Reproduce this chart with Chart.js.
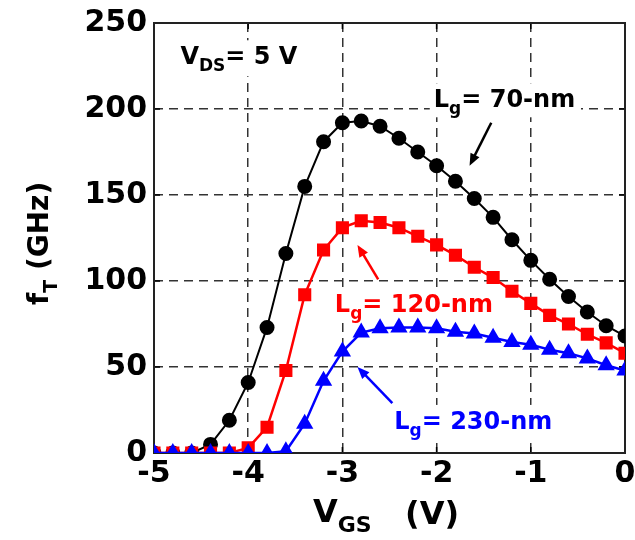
<!DOCTYPE html>
<html>
<head>
<meta charset="utf-8">
<script src="https://cdn.jsdelivr.net/npm/chart.js@4.4.1/dist/chart.umd.min.js"></script>
<style>
  html, body { margin: 0; padding: 0; background: #fff; }
  #wrap { width: 635px; height: 540px; }
</style>
</head>
<body>
<div id="wrap"><canvas id="ftChart" width="635" height="540"></canvas></div>
<script>
// V_GS sweep (V)
const vgs = [-5, -4.8, -4.6, -4.4, -4.2, -4, -3.8, -3.6, -3.4, -3.2, -3, -2.8, -2.6,
  -2.4, -2.2, -2, -1.8, -1.6, -1.4, -1.2, -1, -0.8, -0.6, -0.4, -0.2, 0];

// fT (GHz) for each gate length
const ft70 = [0, 0, 0, 5, 19, 41, 73, 116, 155, 181, 192, 193, 190,
  183, 175, 167, 158, 148, 137, 124, 112, 101, 91, 82, 74, 68];
const ft120 = [0, 0, 0, 0, 0, 3, 15, 48, 92, 118, 131, 135, 134,
  131, 126, 121, 115, 108, 102, 94, 87, 80, 75, 69, 64, 58];
const ft230 = [0, 0, 0, 0, 0, 0, 0, 1, 17, 42, 59, 70, 72.5,
  73, 73, 72.5, 70.5, 69.5, 67, 64.5, 63, 60, 58, 55, 51, 48];

const xTicks = [-5, -4, -3, -2, -1, 0];
const yTicks = [0, 50, 100, 150, 200, 250];

const FONT = '"DejaVu Sans", "Liberation Sans", Arial, sans-serif';

const toPoints = arr => arr.map((y, i) => ({ x: vgs[i], y: y }));

// text with a subscript, returns end x
function subText(ctx, x, y, main, sub, rest, size, color) {
  ctx.fillStyle = color;
  ctx.textBaseline = 'alphabetic';
  ctx.textAlign = 'left';
  ctx.font = 'bold ' + size + 'px ' + FONT;
  ctx.fillText(main, x, y);
  x += ctx.measureText(main).width;
  const ss = Math.round(size * 0.7);
  ctx.font = 'bold ' + ss + 'px ' + FONT;
  ctx.fillText(sub, x, y + size * 0.3);
  x += ctx.measureText(sub).width;
  ctx.font = 'bold ' + size + 'px ' + FONT;
  ctx.fillText(rest, x, y);
  return x + ctx.measureText(rest).width;
}

function arrow(ctx, x1, y1, x2, y2, color) {
  const ang = Math.atan2(y2 - y1, x2 - x1);
  const hl = 12, hw = 5;
  ctx.strokeStyle = color;
  ctx.fillStyle = color;
  ctx.lineWidth = 2.5;
  ctx.beginPath();
  ctx.moveTo(x1, y1);
  ctx.lineTo(x2 - Math.cos(ang) * hl * 0.8, y2 - Math.sin(ang) * hl * 0.8);
  ctx.stroke();
  ctx.beginPath();
  ctx.moveTo(x2, y2);
  ctx.lineTo(x2 - Math.cos(ang) * hl - Math.sin(ang) * hw, y2 - Math.sin(ang) * hl + Math.cos(ang) * hw);
  ctx.lineTo(x2 - Math.cos(ang) * hl + Math.sin(ang) * hw, y2 - Math.sin(ang) * hl - Math.cos(ang) * hw);
  ctx.closePath();
  ctx.fill();
}

const labels = [
  { x: -2.03, y: 201, sub: 'g', rest: '= 70-nm', color: '#000', ax: [-1.42, 192, -1.65, 167] },
  { x: -3.08, y: 82, sub: 'g', rest: '= 120-nm', color: '#ff0000', ax: [-2.62, 101, -2.84, 121] },
  { x: -2.45, y: 14, sub: 'g', rest: '= 230-nm', color: '#0000ff', ax: [-2.47, 29, -2.84, 50] }
];

const framePlugin = {
  id: 'frame',
  beforeDatasetsDraw(chart) {
    const { ctx, chartArea: a, scales } = chart;
    ctx.save();
    // white boxes behind the annotations break the grid like the original
    ctx.fillStyle = '#fff';
    ctx.font = 'bold 24px ' + FONT;
    labels.forEach(l => {
      const px = scales.x.getPixelForValue(l.x);
      const py = scales.y.getPixelForValue(l.y);
      const w = ctx.measureText('L' + l.rest).width + 14;
      ctx.fillRect(px - 4, py - 24, w + 8, 34);
    });
    const vx = scales.x.getPixelForValue(-4.72), vy = scales.y.getPixelForValue(226);
    ctx.fillRect(vx - 4, vy - 24, 132, 36);
    // inner tick marks
    ctx.strokeStyle = '#000';
    ctx.lineWidth = 1.5;
    xTicks.forEach(t => {
      const px = scales.x.getPixelForValue(t);
      ctx.beginPath(); ctx.moveTo(px, a.bottom); ctx.lineTo(px, a.bottom - 6); ctx.stroke();
      ctx.beginPath(); ctx.moveTo(px, a.top); ctx.lineTo(px, a.top + 6); ctx.stroke();
    });
    yTicks.forEach(t => {
      const py = scales.y.getPixelForValue(t);
      ctx.beginPath(); ctx.moveTo(a.left, py); ctx.lineTo(a.left + 6, py); ctx.stroke();
      ctx.beginPath(); ctx.moveTo(a.right, py); ctx.lineTo(a.right - 6, py); ctx.stroke();
    });
    // box
    ctx.strokeStyle = '#222';
    ctx.lineWidth = 2;
    ctx.strokeRect(a.left, a.top, a.right - a.left, a.bottom - a.top);
    ctx.restore();
  },
  afterDraw(chart) {
    const { ctx, scales } = chart;
    ctx.save();
    // annotations
    labels.forEach(l => {
      const px = scales.x.getPixelForValue(l.x);
      const py = scales.y.getPixelForValue(l.y);
      subText(ctx, px, py, 'L', l.sub, l.rest, 24, l.color);
      arrow(ctx,
        scales.x.getPixelForValue(l.ax[0]), scales.y.getPixelForValue(l.ax[1]),
        scales.x.getPixelForValue(l.ax[2]), scales.y.getPixelForValue(l.ax[3]), l.color);
    });
    subText(ctx, scales.x.getPixelForValue(-4.72), scales.y.getPixelForValue(226),
      'V', 'DS', '= 5 V', 24, '#000');

    // x axis title
    subText(ctx, 313, 522, 'V', 'GS', '', 32, '#000');
    ctx.font = 'bold 32px ' + FONT;
    ctx.fillText('(V)', 405, 524);

    // y axis title (rotated)
    ctx.translate(48, 305);
    ctx.rotate(-Math.PI / 2);
    ctx.font = 'bold 28px ' + FONT;
    ctx.fillStyle = '#000';
    ctx.textBaseline = 'alphabetic';
    ctx.fillText('f', 0, 0);
    let w = ctx.measureText('f').width;
    ctx.font = 'bold 19px ' + FONT;
    ctx.fillText('T', w, 9);
    w += ctx.measureText('T').width;
    ctx.font = 'bold 28px ' + FONT;
    ctx.fillText(' (GHz)', w, 0);
    ctx.restore();
  }
};

const ctx = document.getElementById('ftChart').getContext('2d');
new Chart(ctx, {
  type: 'line',
  data: {
    datasets: [
      {
        label: 'Lg = 70-nm',
        data: toPoints(ft70),
        borderColor: '#000',
        backgroundColor: '#000',
        borderWidth: 2,
        pointStyle: 'circle',
        pointRadius: 6.5,
        order: 3
      },
      {
        label: 'Lg = 120-nm',
        data: toPoints(ft120),
        borderColor: '#ff0000',
        backgroundColor: '#ff0000',
        borderWidth: 2.5,
        pointStyle: 'rect',
        pointRadius: 7.5,
        order: 2
      },
      {
        label: 'Lg = 230-nm',
        data: toPoints(ft230),
        borderColor: '#0000ff',
        backgroundColor: '#0000ff',
        borderWidth: 2.5,
        pointStyle: 'triangle',
        pointRadius: 7.5,
        order: 1
      }
    ]
  },
  options: {
    responsive: false,
    animation: false,
    events: [],
    layout: { padding: { top: 23, right: 7, left: 0, bottom: 0 } },
    plugins: {
      legend: { display: false },
      tooltip: { enabled: false },
      title: { display: false }
    },
    elements: {
      line: { tension: 0 },
      point: { borderWidth: 0 }
    },
    scales: {
      x: {
        type: 'linear',
        min: -5,
        max: 0,
        afterFit: s => { s.height = 87; s.paddingLeft = 0; s.paddingRight = 0; },
        afterBuildTicks: s => { s.ticks = xTicks.map(v => ({ value: v })); },
        ticks: {
          color: '#000',
          padding: 3,
          maxRotation: 0,
          font: { family: FONT, size: 30, weight: 'bold' }
        },
        grid: { color: '#333', lineWidth: 1.5, drawTicks: false },
        border: { display: false, dash: [9, 6] }
      },
      y: {
        type: 'linear',
        min: 0,
        max: 250,
        afterFit: s => { s.width = 154; s.paddingTop = 0; s.paddingBottom = 0; },
        afterBuildTicks: s => { s.ticks = yTicks.map(v => ({ value: v })); },
        ticks: {
          color: '#000',
          padding: 7,
          font: { family: FONT, size: 30, weight: 'bold' }
        },
        grid: { color: '#333', lineWidth: 1.5, drawTicks: false },
        border: { display: false, dash: [9, 6] }
      }
    }
  },
  plugins: [framePlugin]
});
</script>
</body>
</html>
